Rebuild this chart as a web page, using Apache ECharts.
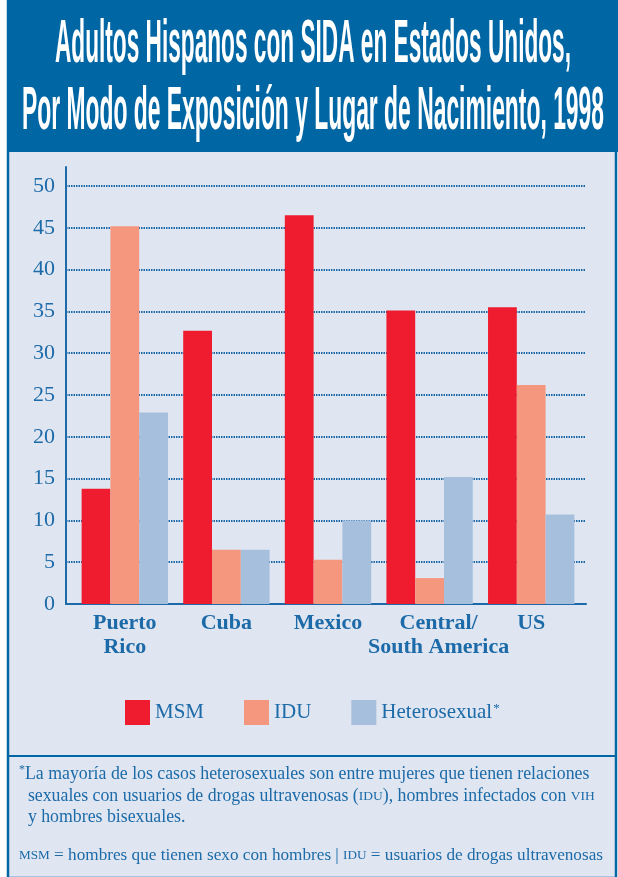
<!DOCTYPE html>
<html>
<head>
<meta charset="utf-8">
<script src="https://cdn.jsdelivr.net/npm/echarts@6/dist/echarts.min.js"></script>
<style>
html,body{margin:0;padding:0;background:#ffffff;}
#chart{width:618px;height:877px;}
</style>
</head>
<body>
<div id="chart"></div>
<script>
// ---- data ----
const titleLines = ['Adultos Hispanos con SIDA en Estados Unidos,', 'Por Modo de Exposición y Lugar de Nacimiento, 1998'];
const categories = ['Puerto\nRico', 'Cuba', 'Mexico', 'Central/\nSouth America', 'US'];
const seriesNames = ['MSM', 'IDU', 'Heterosexual'];
const msm = [13.8, 32.7, 46.5, 35.1, 35.5];
const idu = [45.2, 6.5, 5.3, 3.1, 26.2];
const het = [22.9, 6.5, 10.0, 15.2, 10.7];
const yMin = 0, yMax = 50, yStep = 5;

// ---- styling ----
const BLUE = '#0066a4';
const TXT = '#1c6aa8';
const BG = '#dfe6f1';
const COLORS = ['#ee1c2e', '#f5967f', '#a6bfdd'];
const SERIF = '"Liberation Serif", "DejaVu Serif", serif';
const NARROW = '"Liberation Sans Narrow", "Liberation Sans", Arial, sans-serif';

function fitScale(text, font, target) {
  const c = document.createElement('canvas').getContext('2d');
  c.font = font;
  return target / c.measureText(text).width;
}
const titleFont = 'bold 61px ' + NARROW;
const s1 = fitScale(titleLines[0], titleFont, 516);
const s2 = fitScale(titleLines[1], titleFont, 582);

const chart = echarts.init(document.getElementById('chart'), null, {renderer: 'canvas'});

const plotTop = 186, plotBottom = 877 - 604;

chart.setOption({
  animation: false,
  backgroundColor: '#ffffff',
  textStyle: {fontFamily: SERIF},
  grid: [
    {left: 74, right: 36, top: plotTop, bottom: plotBottom},   // bars
    {left: 66, right: 32, top: plotTop, bottom: plotBottom},   // gridlines + labels + x axis line
    {left: 66, right: 32, top: 167, bottom: plotBottom}        // tall y axis line
  ],
  xAxis: [
    {gridIndex: 0, type: 'category', data: categories,
     axisLine: {show: false}, axisTick: {show: false},
     axisLabel: {
       margin: 7, interval: 0,
       formatter: function (v) {
         if (v.indexOf('Central') === 0) {
           return v.split('\n').map(s => '{c|' + s + '}').join('\n');
         }
         return v.split('\n').map(s => '{n|' + s + '}').join('\n');
       },
       rich: {
         n: {fontFamily: SERIF, fontWeight: 'bold', fontSize: 22, color: TXT, lineHeight: 24},
         c: {fontFamily: SERIF, fontWeight: 'bold', fontSize: 22, color: TXT, lineHeight: 24, padding: [0, 0, 0, 18]}
       }
     }},
    {gridIndex: 1, type: 'value', min: 0, max: 1, show: true,
     axisLine: {show: true, lineStyle: {color: TXT, width: 2}},
     axisTick: {show: false}, axisLabel: {show: false}, splitLine: {show: false}},
    {gridIndex: 2, type: 'value', min: 0, max: 1, show: false}
  ],
  yAxis: [
    {gridIndex: 0, type: 'value', min: yMin, max: yMax, interval: yStep, show: false},
    {gridIndex: 1, type: 'value', min: yMin, max: yMax, interval: yStep,
     axisLine: {show: false}, axisTick: {show: false},
     axisLabel: {color: TXT, fontFamily: SERIF, fontSize: 22, margin: 11},
     splitLine: {show: true, lineStyle: {color: '#1a68a8', width: 2, type: [1.5, 1]}}},
    {gridIndex: 2, type: 'value', min: 0, max: 1,
     axisLine: {show: true, lineStyle: {color: TXT, width: 2}},
     axisTick: {show: false}, axisLabel: {show: false}, splitLine: {show: false}}
  ],
  legend: {
    left: 120, top: 695,
    itemWidth: 25, itemHeight: 25, itemGap: 40, icon: 'rect',
    data: seriesNames,
    formatter: function (n) { return n === 'Heterosexual' ? '{t|Heterosexual}{s|*}' : '{t|' + n + '}'; },
    textStyle: {
      color: TXT, fontFamily: SERIF, fontSize: 21,
      rich: {
        t: {color: TXT, fontFamily: SERIF, fontSize: 21},
        s: {color: TXT, fontFamily: SERIF, fontSize: 13, verticalAlign: 'top', padding: [0, 0, 8, 1]}
      }
    }
  },
  series: [
    {name: seriesNames[0], type: 'bar', data: msm, barGap: '0%', barCategoryGap: '15%', itemStyle: {color: COLORS[0]}, xAxisIndex: 0, yAxisIndex: 0},
    {name: seriesNames[1], type: 'bar', data: idu, barGap: '0%', barCategoryGap: '15%', itemStyle: {color: COLORS[1]}, xAxisIndex: 0, yAxisIndex: 0},
    {name: seriesNames[2], type: 'bar', data: het, barGap: '0%', barCategoryGap: '15%', itemStyle: {color: COLORS[2]}, xAxisIndex: 0, yAxisIndex: 0}
  ],
  graphic: [
    {type: 'rect', z: -10, silent: true, shape: {x: 8, y: 0, width: 608, height: 878},
     style: {fill: BG, stroke: BLUE, lineWidth: 2.5}},
    {type: 'rect', z: -9, silent: true, shape: {x: 7, y: 0, width: 611, height: 152},
     style: {fill: BLUE}},
    {type: 'text', z: 10, x: 313, y: 45, scaleX: s1,
     style: {text: titleLines[0], font: titleFont, fill: '#ffffff', align: 'center', verticalAlign: 'middle'}},
    {type: 'text', z: 10, x: 313, y: 112, scaleX: s2,
     style: {text: titleLines[1], font: titleFont, fill: '#ffffff', align: 'center', verticalAlign: 'middle'}},
    {type: 'line', z: 5, silent: true, shape: {x1: 7, y1: 756, x2: 617, y2: 756},
     style: {stroke: BLUE, lineWidth: 2}},
    {type: 'text', z: 10, left: 19, top: 764,
     style: {
       text: '{s|*}{n|La mayoría de los casos heterosexuales son entre mujeres que tienen relaciones}\n' +
             '{n|  sexuales con usuarios de drogas ultravenosas (}{sc|IDU}{n|), hombres infectados con }{sc|VIH}\n' +
             '{n|  y hombres bisexuales.}',
       rich: {
         n: {fontFamily: SERIF, fontSize: 17.8, fill: TXT, lineHeight: 21.5},
         s: {fontFamily: SERIF, fontSize: 12, fill: TXT, lineHeight: 21.5, verticalAlign: 'top'},
         sc: {fontFamily: SERIF, fontSize: 13.5, fill: TXT, lineHeight: 21.5}
       }
     }},
    {type: 'text', z: 10, left: 19, top: 847,
     style: {
       text: '{sc|MSM}{n| = hombres que tienen sexo con hombres | }{sc|IDU}{n| = usuarios de drogas ultravenosas}',
       rich: {
         n: {fontFamily: SERIF, fontSize: 17.2, fill: TXT, lineHeight: 21},
         sc: {fontFamily: SERIF, fontSize: 13.2, fill: TXT, lineHeight: 21}
       }
     }}
  ]
});
</script>
</body>
</html>
